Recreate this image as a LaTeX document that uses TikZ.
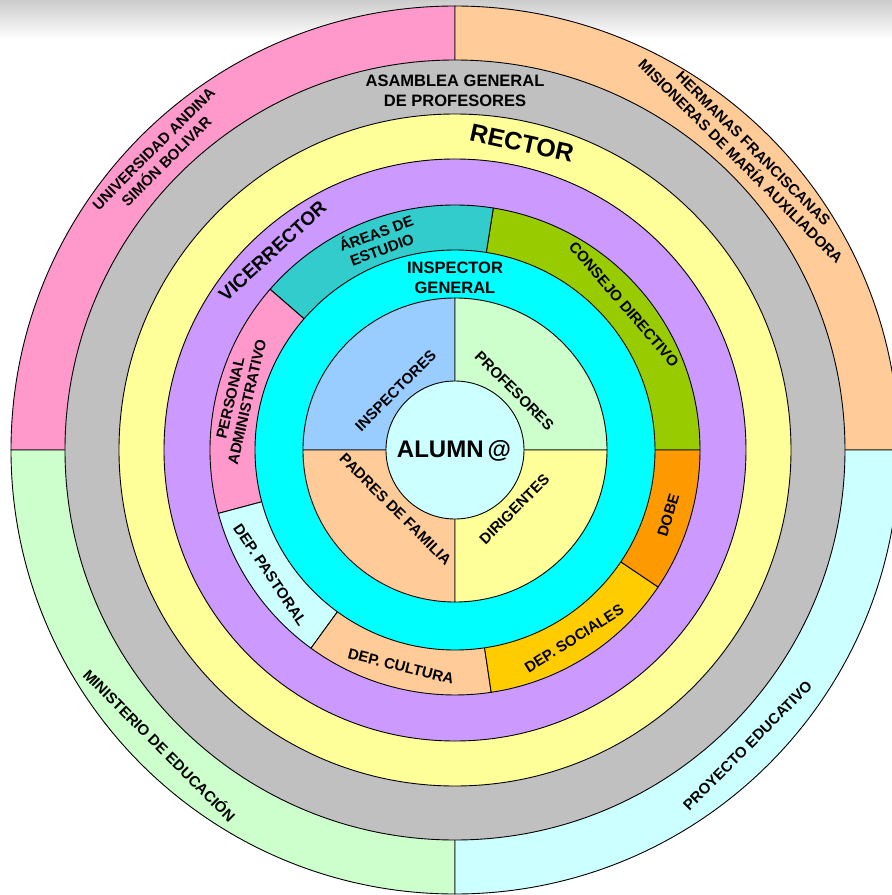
\documentclass[tikz,border=0pt]{standalone}
\usepackage{fontspec}
\setmainfont{Liberation Sans}
\definecolor{rosa}{HTML}{FF99CC}
\definecolor{durazno}{HTML}{FFCC99}
\definecolor{verdecl}{HTML}{CCFFCC}
\definecolor{celestecl}{HTML}{CCFFFF}
\definecolor{gris}{HTML}{C0C0C0}
\definecolor{amarillo}{HTML}{FFFF99}
\definecolor{lila}{HTML}{CC99FF}
\definecolor{turquesa}{HTML}{33CCCC}
\definecolor{oliva}{HTML}{99CC00}
\definecolor{cian}{HTML}{00FFFF}
\definecolor{azulcl}{HTML}{99CCFF}
\definecolor{naranja}{HTML}{FF9900}
\definecolor{oro}{HTML}{FFCC00}

\begin{document}
\begin{tikzpicture}[x=1pt,y=1pt,
    borde/.style={draw=black,line width=0.9pt},
    txt/.style={font=\bfseries\fontsize{15}{17}\selectfont,align=center,inner sep=0pt},
    grande/.style={font=\bfseries\fontsize{16.5}{20}\selectfont}]
      \useasboundingbox (-455,-445) rectangle (437,450) ;
      \clip (-455,-445) rectangle (437,450) ;
      \shade[top color=gray!40,bottom color=white] (-455,450) rectangle (437,411) ;
      % anillo exterior
      \filldraw[borde,fill=rosa] (0,0) -- (90:444pt) arc (90:180:444pt) -- cycle ;
      \filldraw[borde,fill=durazno] (0,0) -- (0:444pt) arc (0:90:444pt) -- cycle ;
      \filldraw[borde,fill=verdecl] (0,0) -- (180:444pt) arc (180:270:444pt) -- cycle ;
      \filldraw[borde,fill=celestecl] (0,0) -- (270:444pt) arc (270:360:444pt) -- cycle ;
      \filldraw[borde,fill=gris] (0,0) circle (390pt) ;
      \filldraw[borde,fill=amarillo] (0,0) circle (336pt) ;
      \filldraw[borde,fill=lila] (0,0) circle (291pt) ;
      % departamentos
      \filldraw[borde,fill=oliva] (0,0) -- (0:245pt) arc (0:81:245pt) -- cycle ;
      \filldraw[borde,fill=turquesa] (0,0) -- (81:245pt) arc (81:139:245pt) -- cycle ;
      \filldraw[borde,fill=rosa] (0,0) -- (139:245pt) arc (139:195:245pt) -- cycle ;
      \filldraw[borde,fill=celestecl] (0,0) -- (195:245pt) arc (195:234:245pt) -- cycle ;
      \filldraw[borde,fill=durazno] (0,0) -- (234:245pt) arc (234:278.5:245pt) -- cycle ;
      \filldraw[borde,fill=oro] (0,0) -- (278.5:245pt) arc (278.5:326:245pt) -- cycle ;
      \filldraw[borde,fill=naranja] (0,0) -- (326:245pt) arc (326:360:245pt) -- cycle ;
      \filldraw[borde,fill=cian] (0,0) circle (200pt) ;
      % cuadrantes
      \filldraw[borde,fill=azulcl] (0,0) -- (90:152pt) arc (90:180:152pt) -- cycle ;
      \filldraw[borde,fill=verdecl] (0,0) -- (0:152pt) arc (0:90:152pt) -- cycle ;
      \filldraw[borde,fill=durazno] (0,0) -- (180:152pt) arc (180:270:152pt) -- cycle ;
      \filldraw[borde,fill=amarillo] (0,0) -- (270:152pt) arc (270:360:152pt) -- cycle ;
      \filldraw[borde,fill=celestecl] (0,0) circle (69pt) ;
      % textos
      \node[txt,rotate=45,font=\bfseries\fontsize{15}{18}\selectfont] (unasb) at (135:417pt) {UNIVERSIDAD ANDINA\\SIMÓN BOLIVAR} ;
      \node[txt,rotate=-45,font=\bfseries\fontsize{15}{18}\selectfont] (hermanas) at (45.3:415pt) {HERMANAS FRANCISCANAS\\MISIONERAS DE MARÍA AUXILIADORA} ;
      \node[txt,rotate=-45] (ministerio) at (225:417pt) {MINISTERIO DE EDUCACIÓN} ;
      \node[txt,rotate=45] (proyecto) at (314.7:416pt) {PROYECTO EDUCATIVO} ;
      \node[txt,grande] (asamblea) at (0,359) {ASAMBLEA GENERAL\\DE PROFESORES} ;
      \node[txt,rotate=-12.3,font=\bfseries\fontsize{25}{28}\selectfont] (rector) at (77.7:314pt) {RECTOR} ;
      \node[txt,rotate=42.5,font=\bfseries\fontsize{19}{22}\selectfont] (vicerrector) at (132.5:270pt) {VICERRECTOR} ;
      \node[txt,rotate=20] (areas) at (110:223pt) {ÁREAS DE\\ESTUDIO} ;
      \node[txt,rotate=-49.3] (consejo) at (40.7:223pt) {CONSEJO DIRECTIVO} ;
      \node[txt,rotate=77] (personal) at (167:222pt) {PERSONAL\\ADMINISTRATIVO} ;
      \node[txt,rotate=-56] (pastoral) at (214:223pt) {DEP. PASTORAL} ;
      \node[txt,rotate=-14] (cultura) at (256:223pt) {DEP. CULTURA} ;
      \node[txt,rotate=32.3] (sociales) at (302.3:223pt) {DEP. SOCIALES} ;
      \node[txt,rotate=73] (dobe) at (343:223pt) {DOBE} ;
      \node[txt,grande] (inspgral) at (0,172.5) {INSPECTOR\\GENERAL} ;
      \node[txt,rotate=45] (inspectores) at (135:84pt) {INSPECTORES} ;
      \node[txt,rotate=-45] (profesores) at (45:84pt) {PROFESORES} ;
      \node[txt,rotate=-45] (padres) at (225:84pt) {PADRES DE FAMILIA} ;
      \node[txt,rotate=45] (dirigentes) at (315:84pt) {DIRIGENTES} ;
      \node[txt,anchor=base,font=\bfseries\fontsize{24}{28}\selectfont] (alumno) at (-1,-7) {ALUMN\,@} ;
    \end{tikzpicture}
\end{document}
